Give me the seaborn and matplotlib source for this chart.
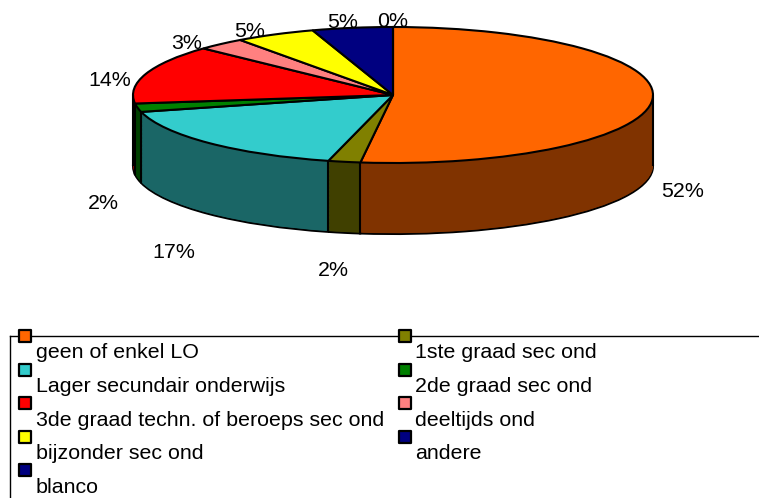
import numpy as np
import matplotlib
matplotlib.use("Agg")
import matplotlib.pyplot as plt
import matplotlib.colors as mcolors
import seaborn as sns

# ---------------- data ----------------
categories = ["geen of enkel LO", "1ste graad sec ond", "Lager secundair onderwijs",
              "2de graad sec ond", "3de graad techn. of beroeps sec ond", "deeltijds ond",
              "bijzonder sec ond", "andere", "blanco"]
values = [52, 2, 17, 2, 14, 3, 5, 5, 0]
top_colors = ["#FF6600", "#808000", "#33CCCC", "#008000", "#FF0000",
              "#FF8080", "#FFFF00", "#000080", "#000080"]
pct_labels = [f"{v}%" for v in values]

sns.set_theme(style="white")
plt.rcParams["font.family"] = ["Liberation Sans", "DejaVu Sans"]

W, H, DPI = 759, 498, 100
fig = plt.figure(figsize=(W / DPI, H / DPI), dpi=DPI)

# ---------------- 3D pie ----------------
PIE_H = 320                      # pixel height of pie area (top of figure)
CX, CY, A, B = 393, 95, 260, 68  # ellipse centre / semi-axes in pixels
DEPTH = 71 / B                   # extrusion depth in data units

ax = fig.add_axes([0, 1 - PIE_H / H, 1, PIE_H / H])

side_colors = [tuple(0.5 * c for c in mcolors.to_rgb(col)) for col in top_colors]

n_layers = 90
ts = np.linspace(DEPTH, 0, n_layers)
for i, t in enumerate(ts[:-1]):
    ax.pie(values, colors=side_colors, startangle=90, counterclock=False,
           center=(0, -t), radius=1, frame=False,
           wedgeprops=dict(linewidth=1.5 if i == 0 else 0,
                           edgecolor="black" if i == 0 else "none",
                           antialiased=True))

# side edges
ax.vlines([-1, 1], -DEPTH, 0, colors="black", linewidth=1.5, zorder=5)
bounds = np.cumsum(values) / np.sum(values) * 360.0
for phi in np.deg2rad(bounds):
    if np.cos(phi) < -0.02:
        x, y = np.sin(phi), np.cos(phi)
        ax.vlines(x, y - DEPTH, y, colors="black", linewidth=1.5, zorder=5)

# top face
ax.pie(values, colors=top_colors, startangle=90, counterclock=False,
       radius=1, frame=False,
       wedgeprops=dict(linewidth=1.5, edgecolor="black"))

# percentage labels
mids = (np.cumsum(values) - np.array(values) / 2) / np.sum(values) * 2 * np.pi
for lab, phi in zip(pct_labels, mids):
    s, c = np.sin(phi), np.cos(phi)
    R = 1.11 + 0.12 * abs(c)
    if c < 0:
        off_px = 90 + 20 * abs(s * c)
    else:
        off_px = 10
    ax.text(R * s, R * c - off_px / B, lab, ha="center", va="center",
            fontsize=15.4, color="black", zorder=10)

ax.set_aspect("auto")
ax.set_xlim(-CX / A, (W - CX) / A)
ax.set_ylim((CY - PIE_H) / B, CY / B)
ax.axis("off")

# ---------------- legend ----------------
LEG_TOP = 336
lax = fig.add_axes([10 / W, 0, 1, (H - LEG_TOP) / H])
lax.set_xlim(0, W)
lax.set_ylim(H - LEG_TOP, 0)
lax.set_xticks([])
lax.set_yticks([])
for sp in ["right", "bottom"]:
    lax.spines[sp].set_visible(False)
for sp in ["left", "top"]:
    lax.spines[sp].set_visible(True)
    lax.spines[sp].set_color("black")
    lax.spines[sp].set_linewidth(1.0)
lax.set_facecolor("none")

col_marker_x = [15, 395]
col_text_x = [26, 405]
row_step = 33.5
for k, (cat, col) in enumerate(zip(categories, top_colors)):
    r, cidx = divmod(k, 2)
    my = r * row_step
    lax.scatter([col_marker_x[cidx]], [my], marker="s", s=85, color=col,
                edgecolor="black", linewidth=1.6, zorder=10, clip_on=False)
    lax.text(col_text_x[cidx], my + 17, cat, ha="left", va="center",
             fontsize=15.4, color="black", clip_on=False)

fig.savefig("out.png", dpi=DPI)
